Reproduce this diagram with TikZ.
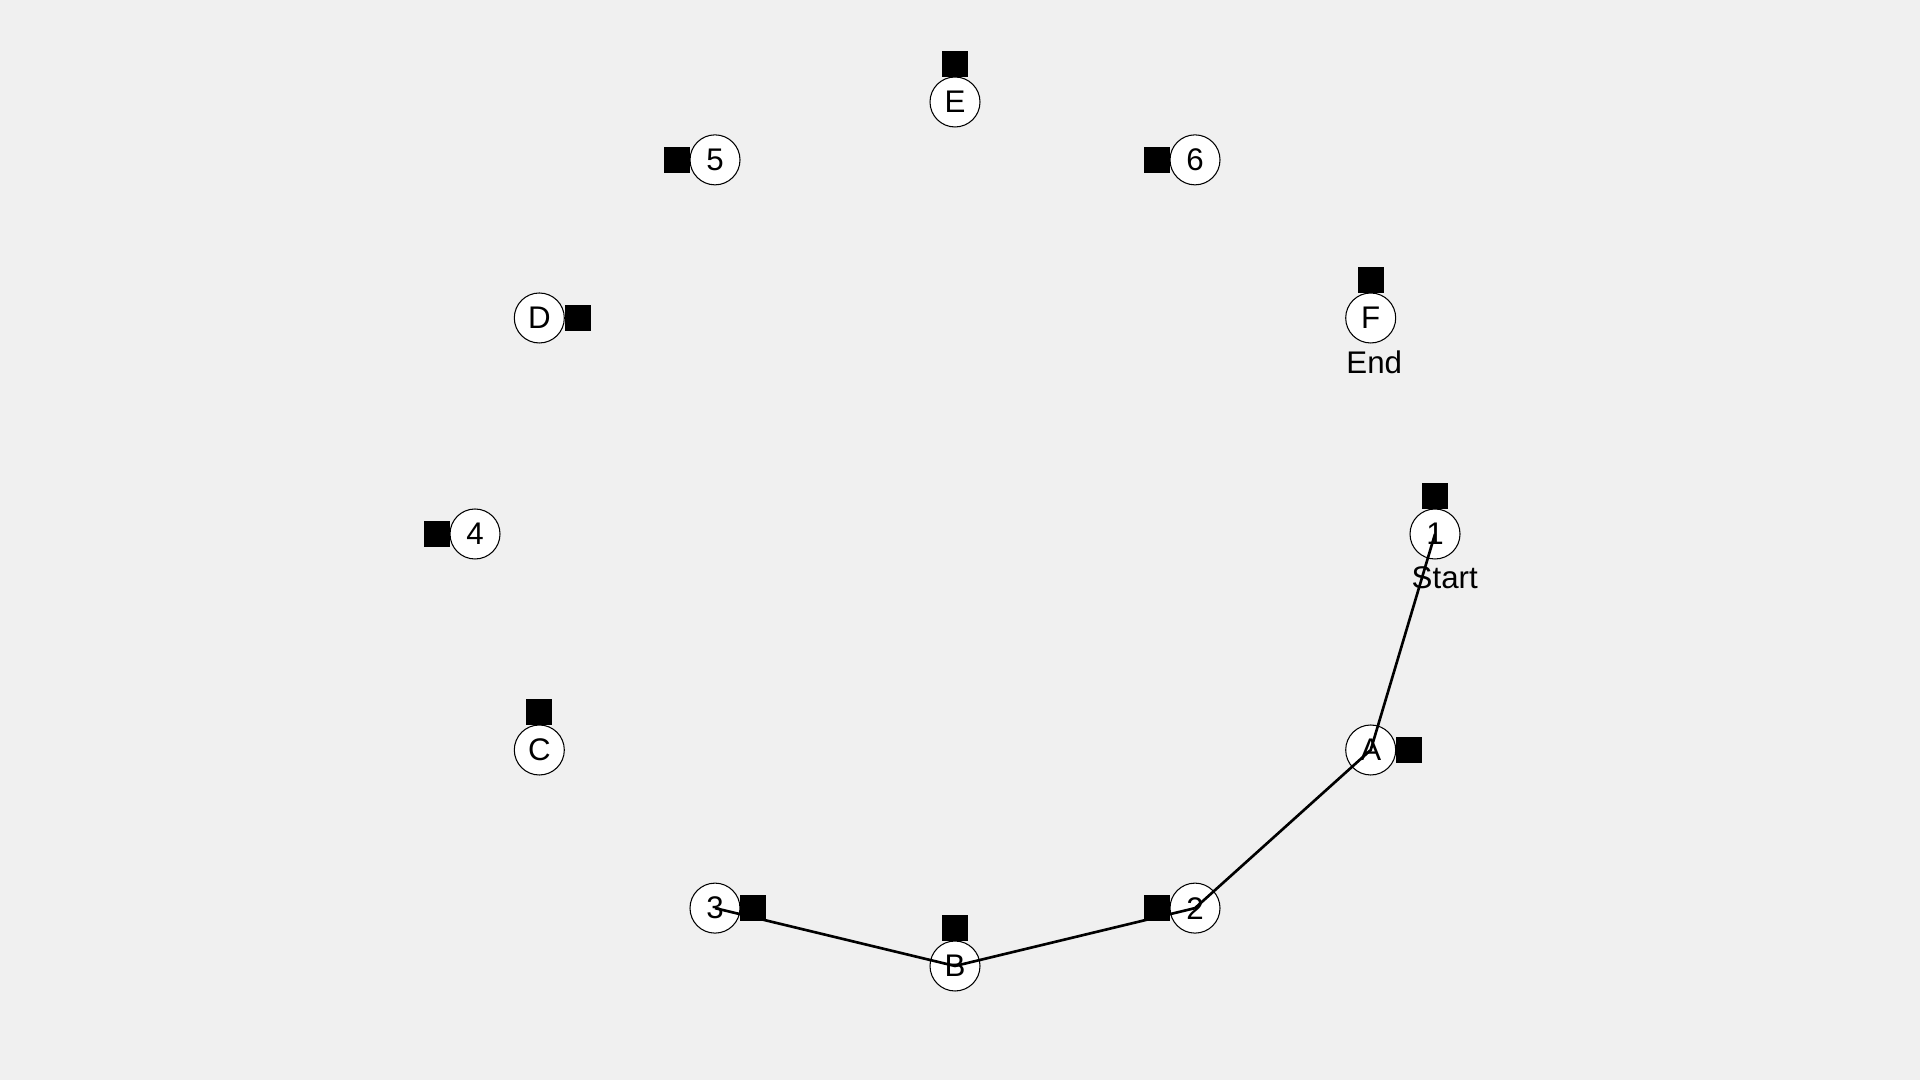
\documentclass[tikz,border=0pt]{standalone}
\usepackage{fontspec}
\setmainfont{Liberation Sans}
\usetikzlibrary{calc,positioning}
\definecolor{bggray}{RGB}{240,240,240}

\begin{document}
\begin{tikzpicture}[font=\fontsize{8.9}{10}\selectfont]

\tikzset{ringnode/.style={shape=circle,fill=white,draw=black,line width=0.3pt,inner sep=0pt,minimum size=5mm},
sqnode/.style={shape=rectangle,fill=black,draw=none,inner sep=0pt,minimum size=2.6mm},
tournode/.style={line width=0.75pt}}

% Background
\fill[bggray] (0,0) rectangle (19.2,10.8);
\useasboundingbox (0,0) rectangle (19.2,10.8);

% Ring of nodes
\coordinate (ctr) at (9.55,5.46);
\foreach \a/\n in {0/1,-30/A,-60/2,-90/B,-120/3,-150/C,180/4,150/D,120/5,90/E,60/6,30/F}
  \node[ringnode] (n\n) at ($(ctr)+(\a:4.8 and 4.32)$) {\n};

% Squares
\node[sqnode,above=-0.1mm of n1] (s1) {};
\node[sqnode,right=-0.1mm of nA] (sA) {};
\node[sqnode,left=-0.1mm of n2] (s2) {};
\node[sqnode,above=-0.1mm of nB] (sB) {};
\node[sqnode,right=-0.1mm of n3] (s3) {};
\node[sqnode,above=-0.1mm of nC] (sC) {};
\node[sqnode,left=-0.1mm of n4] (s4) {};
\node[sqnode,right=-0.1mm of nD] (sD) {};
\node[sqnode,left=-0.1mm of n5] (s5) {};
\node[sqnode,above=-0.1mm of nE] (sE) {};
\node[sqnode,left=-0.1mm of n6] (s6) {};
\node[sqnode,above=-0.1mm of nF] (sF) {};

% Tour
\draw[tournode] (n1.center) -- (nA.center) -- (n2.center) -- (nB.center) -- (n3.center);

% Start and end labels
\node[anchor=west,inner sep=0pt] (start) at ($(n1)+(-0.24,-0.44)$) {Start};
\node[anchor=west,inner sep=0pt] (end) at ($(nF)+(-0.25,-0.44)$) {End};

\end{tikzpicture}
\end{document}
